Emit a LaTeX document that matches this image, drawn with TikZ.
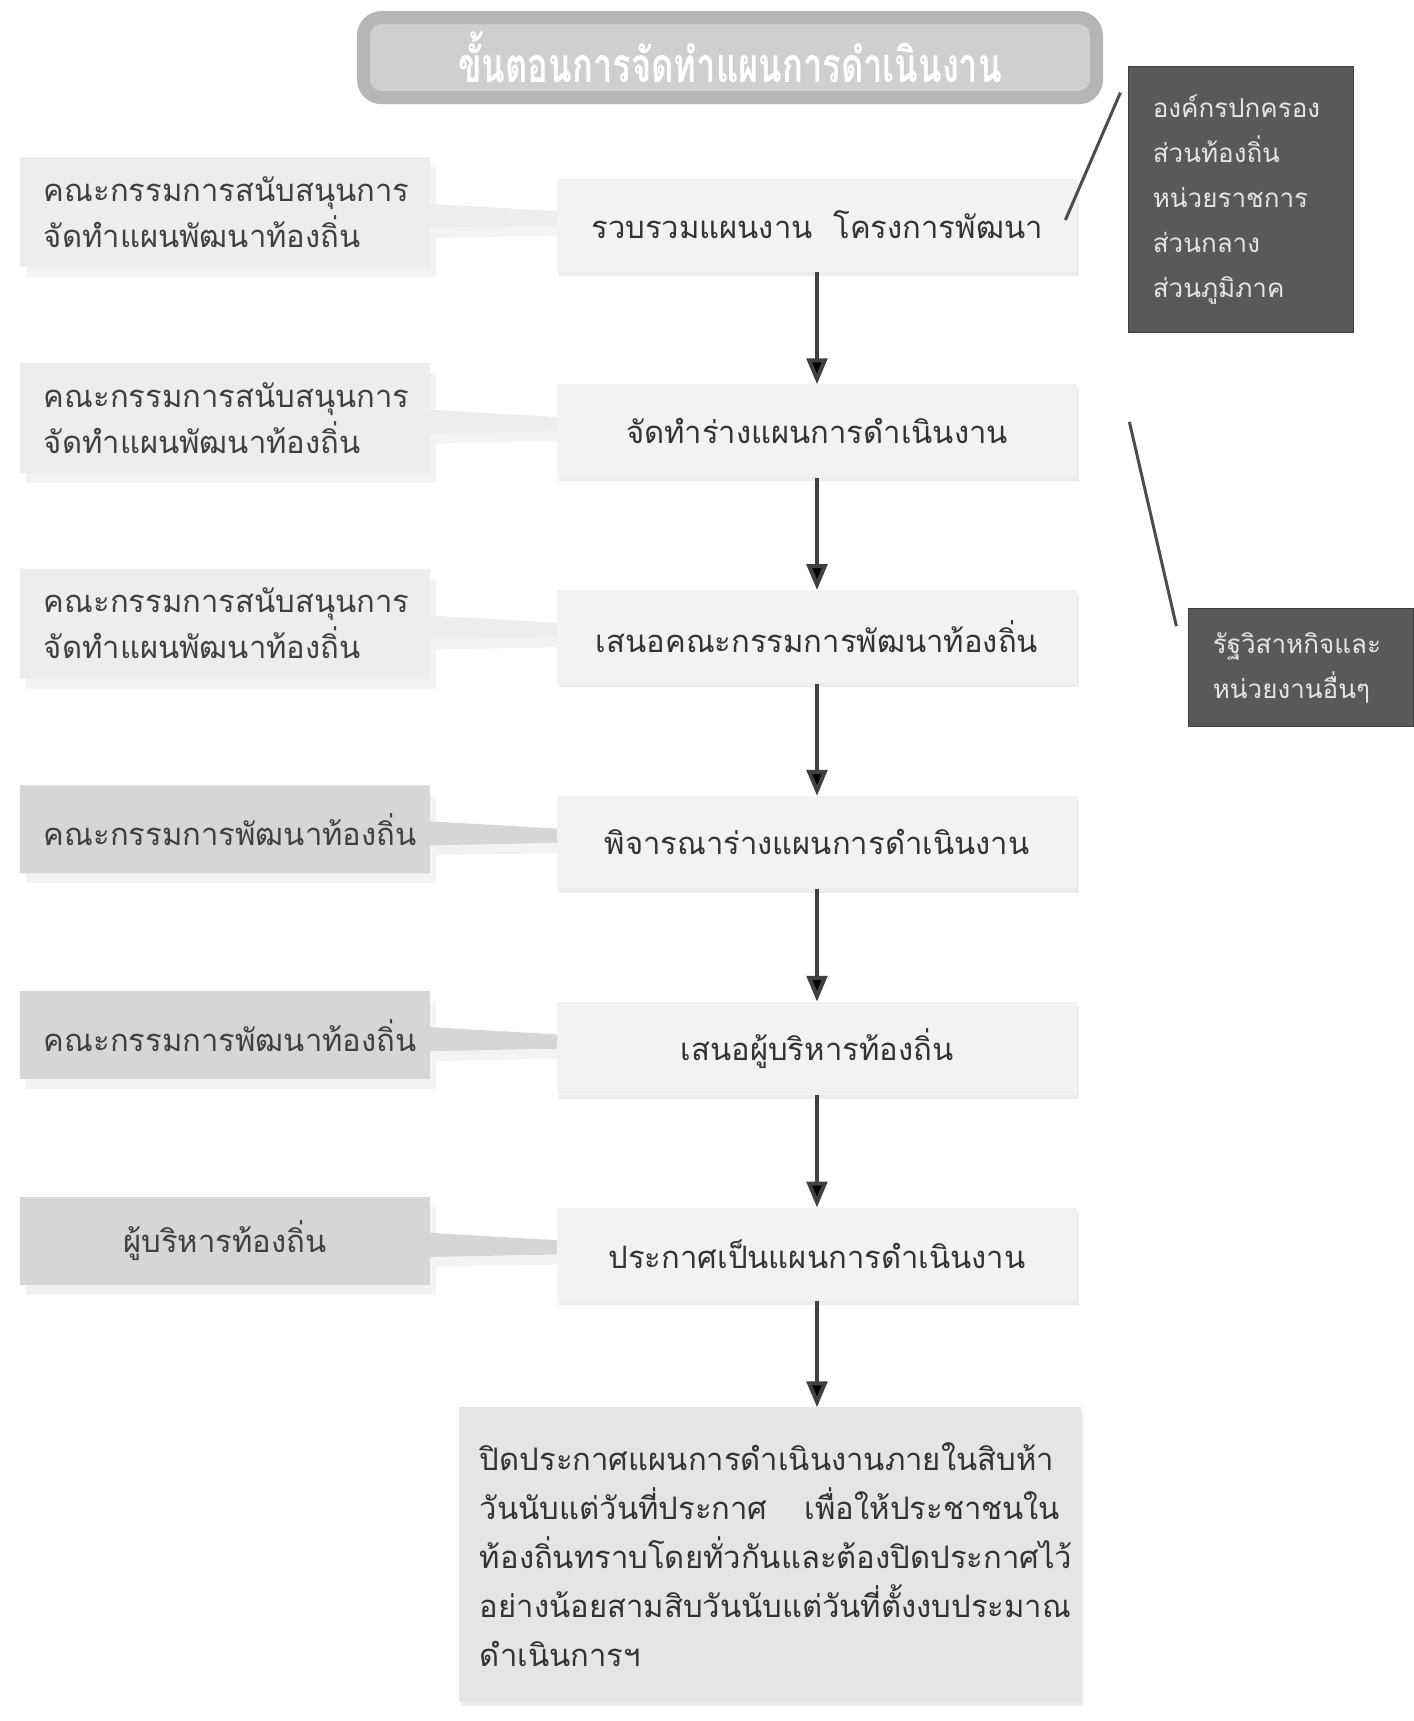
\documentclass[tikz,border=0pt]{standalone}
\usepackage{fontspec}
\newfontfamily\thaifont[Script=Thai]{Loma}
\newfontfamily\titlefont[Script=Thai,FakeStretch=0.72]{Loma}
\usetikzlibrary{matrix,arrows,positioning,shapes.callouts,shadows}

\tikzset{
  stepbox/.style={fill=gray!10, text=black!80, minimum width=260pt, minimum height=46.5pt,
    font=\thaifont\fontsize{15.5}{24.5}\selectfont,
    drop shadow={shadow xshift=1pt, shadow yshift=-2pt, fill=gray!30}},
  helper/.style={rectangle callout, fill=gray!14, text=black!75, text width=181pt, inner xsep=12pt,
    minimum height=55pt, align=left, yshift=6.5pt,
    callout relative pointer={(157pt,-3pt)}, callout pointer width=12pt,
    font=\thaifont\fontsize{15.5}{23}\selectfont,
    drop shadow={shadow xshift=3pt, shadow yshift=-5pt, fill=gray!18}},
  council/.style={helper, fill=gray!32, minimum height=44pt, align=center},
  agency/.style={fill=black!65, draw=black!75, text=white!90!black, text width=88.5pt, inner xsep=12pt,
    align=left, font=\thaifont\fontsize{13}{22.5}\selectfont},
  noticebox/.style={fill=gray!20, text=black!80, text width=290pt, inner xsep=10.5pt,
    minimum height=147.5pt, align=left, font=\thaifont\fontsize{15.5}{24.5}\selectfont,
    drop shadow={shadow xshift=1pt, shadow yshift=-2pt, fill=gray!30}},
  titlebox/.style={draw=gray!58, line width=6.5pt, fill=gray!38, rounded corners=9pt,
    minimum width=366.5pt, minimum height=40pt, text=white,
    font=\titlefont\bfseries\fontsize{24}{24}\selectfont,
    drop shadow={shadow xshift=2pt, shadow yshift=-3pt, fill=gray!35}},
  link/.style={line width=1.5pt, draw=black!70},
  flow/.style={line width=2pt, draw=black!75, -triangle 45}
}

\begin{document}
\begin{tikzpicture}
  \matrix (m) [matrix of nodes, row sep={102.9pt,between origins}, column sep={296pt,between origins},
    nodes={anchor=center}]
  {
|[helper]| {คณะกรรมการสนับสนุนการ\\จัดทำแผนพัฒนาท้องถิ่น} & |[stepbox]| รวบรวมแผนงาน\ \ โครงการพัฒนา \\
|[helper]| {คณะกรรมการสนับสนุนการ\\จัดทำแผนพัฒนาท้องถิ่น} & |[stepbox]| จัดทำร่างแผนการดำเนินงาน \\
|[helper]| {คณะกรรมการสนับสนุนการ\\จัดทำแผนพัฒนาท้องถิ่น} & |[stepbox]| เสนอคณะกรรมการพัฒนาท้องถิ่น \\
|[council]| คณะกรรมการพัฒนาท้องถิ่น & |[stepbox]| พิจารณาร่างแผนการดำเนินงาน \\
|[council]| คณะกรรมการพัฒนาท้องถิ่น & |[stepbox]| เสนอผู้บริหารท้องถิ่น \\
|[council]| ผู้บริหารท้องถิ่น & |[stepbox]| ประกาศเป็นแผนการดำเนินงาน \\
};

  \node[titlebox, above=37pt of m-1-2, xshift=-43.5pt] (title) {ขั้นตอนการจัดทำแผนการดำเนินงาน};
  \node[noticebox, below=53pt of m-6-2, xshift=-23.5pt] (fin)
    {ปิดประกาศแผนการดำเนินงานภายในสิบห้า\\
     วันนับแต่วันที่ประกาศ\hfill เพื่อให้ประชาชนใน\\
     ท้องถิ่นทราบโดยทั่วกันและต้องปิดประกาศไว้\\
     อย่างน้อยสามสิบวันนับแต่วันที่ตั้งงบประมาณ\\
     ดำเนินการฯ};
  \node[agency, right=25.5pt of m-1-2, yshift=13pt, minimum height=133pt] (r1)
    {องค์กรปกครอง\\ส่วนท้องถิ่น\\หน่วยราชการ\\ส่วนกลาง\\ส่วนภูมิภาค};
  \node[agency, right=55.5pt of m-3-2, yshift=-15.5pt, minimum height=59pt] (r2)
    {รัฐวิสาหกิจและ\\หน่วยงานอื่นๆ};

  \path[flow]
 (m-1-2) edge (m-2-2)
 (m-2-2) edge (m-3-2)
 (m-3-2) edge (m-4-2)
 (m-4-2) edge (m-5-2)
 (m-5-2) edge (m-6-2)
 (m-6-2) edge (m-6-2 |- fin.north);

  \draw[link] ([shift={(-6pt,2.5pt)}]m-1-2.east) -- ([shift={(-4pt,-13.5pt)}]r1.north west);
  \draw[link] ([shift={(26pt,4.5pt)}]m-2-2.east) -- ([shift={(-6pt,-9pt)}]r2.north west);

  \pgfresetboundingbox
  \path[use as bounding box] ([shift={(-408.5pt,112.5pt)}]m-1-2.center) rectangle ++(707pt,-860.5pt);
\end{tikzpicture}
\end{document}
